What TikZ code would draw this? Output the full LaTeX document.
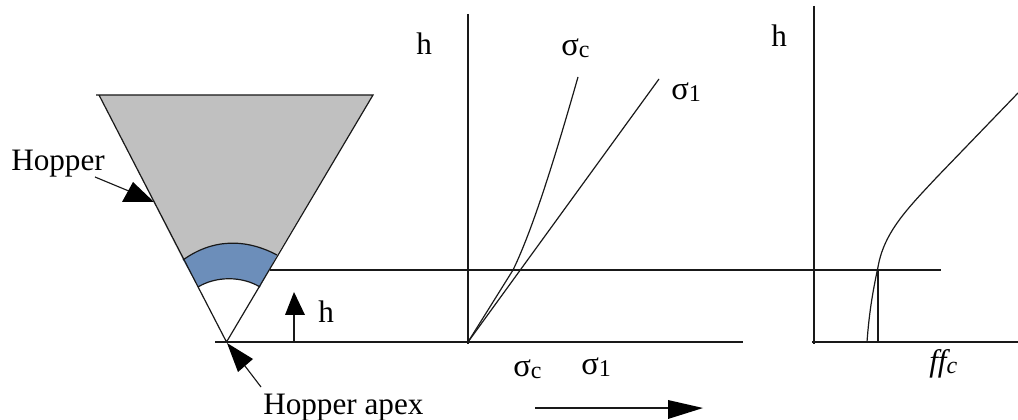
\documentclass[tikz,border=0pt]{standalone}
\usepackage{fontspec}
\setmainfont{Liberation Serif}
\definecolor{hopgray}{RGB}{192,192,192}
\definecolor{hopblue}{RGB}{108,142,186}
\definecolor{ink}{RGB}{25,25,25}
\tikzset{
  axis/.style={draw=ink,line width=1.1pt},
  thinline/.style={draw=ink,line width=0.9pt},
  pointer/.style={draw=ink,line width=0.85pt},
  head/.style={fill=black,draw=none},
  lbl/.style={inner sep=0pt,text=black,font=\fontsize{23.4}{25}\selectfont},
  sym/.style={inner sep=0pt,text=black,font=\fontsize{24.5}{26}\selectfont}
}
\newcommand{\smallsub}[1]{{\fontsize{18}{20}\selectfont\raisebox{-1.5pt}{#1}}}
\begin{document}
\begin{tikzpicture}[x=0.75pt,y=-0.75pt]
\useasboundingbox (0,0) rectangle (1018,420);
% hopper
\coordinate (apex) at (226.5,342);
\coordinate (tl) at (99,95);
\coordinate (tr) at (373,95);
\coordinate (tlx) at (96,95);
\coordinate (tlo) at (183,260);
\coordinate (tro) at (277,255);
\coordinate (bli) at (198,287);
\coordinate (bri) at (260,287);
\fill[hopgray] (tl) -- (tr) -- (tro) .. controls (245,238) and (212,239) .. (tlo) -- cycle;
\fill[hopblue] (tlo) .. controls (212,239) and (245,238) .. (tro) -- (bri) .. controls (242,276) and (216,276) .. (bli) -- cycle;
\draw[thinline] (tlx) -- (tr) -- (apex) -- (tl);
\draw[thinline] (tlo) .. controls (212,239) and (245,238) .. (tro);
\draw[thinline] (bli) .. controls (216,276) and (242,276) .. (bri);
% horizontals
\coordinate (h1a) at (270,270);
\coordinate (h1b) at (941,270);
\coordinate (b1a) at (215,342);
\coordinate (b1b) at (743,342);
\coordinate (b2a) at (812,342);
\coordinate (b2b) at (1018,342);
\draw[thinline] (h1a) -- (h1b);
\draw[thinline] (b1a) -- (b1b);
\draw[thinline] (b2a) -- (b2b);
% axes
\coordinate (ax1t) at (468,14);
\coordinate (ax1b) at (468,344);
\coordinate (ax2t) at (814,6);
\coordinate (ax2b) at (814,344);
\coordinate (v3t) at (878,270);
\coordinate (v3b) at (878,343);
\draw[axis] (ax1t) -- (ax1b);
\draw[axis] (ax2t) -- (ax2b);
\draw[axis] (v3t) -- (v3b);
% curves, middle
\coordinate (o) at (468,342);
\coordinate (s1) at (659,79);
\coordinate (sc) at (578,77);
\coordinate (sm) at (513,270);
\draw[thinline] (o) -- (s1);
\draw[thinline] (o) -- (sm) .. controls (535,225) and (560,140) .. (sc);
% curve, right
\coordinate (f0) at (867,342);
\coordinate (f1) at (878,267);
\coordinate (f2) at (937,177);
\coordinate (f3) at (1018,93);
\draw[thinline] (f0) .. controls (869,315) and (872,295) .. (f1) .. controls (884,232) and (908,208) .. (f2) -- (f3);
% pointers
\coordinate (ph0) at (95,177);
\coordinate (ph1) at (136,194);
\coordinate (pa0) at (261,387);
\coordinate (pa1) at (245,366);
\coordinate (pu0) at (294,342);
\coordinate (pu1) at (294,314);
\coordinate (pr0) at (535,408);
\coordinate (pr1) at (669,408);
\draw[pointer] (ph0) -- (ph1);
\draw[pointer] (pa0) -- (pa1);
\draw[pointer] (pu0) -- (pu1);
\draw[pointer] (pr0) -- (pr1);
\fill[head] (133,182) -- (154,202) -- (122,202) -- cycle;
\fill[head] (227,343) -- (253,359) -- (238,372) -- cycle;
\fill[head] (294,292) -- (305,315) -- (285,315) -- cycle;
\fill[head] (703,408) -- (668,419) -- (668,400) -- cycle;
% labels
\node[lbl,anchor=base west] (hopper) at (11,171) {Hopper};
\node[lbl,anchor=base west] (hapex) at (263,414) {Hopper apex};
\node[lbl,anchor=base west] (h0) at (318,323) {h};
\node[lbl,anchor=base west] (h1) at (416,55) {h};
\node[lbl,anchor=base west] (h2) at (771,47) {h};
\node[sym,anchor=base west] (lsc) at (561,56) {σ\smallsub{c}};
\node[sym,anchor=base west] (ls1) at (671,100) {σ\smallsub{1}};
\node[sym,anchor=base west] (lsc2) at (513,377) {σ\smallsub{c}};
\node[sym,anchor=base west] (ls12) at (581,375) {σ\smallsub{1}};
\node[lbl,anchor=base west] (lff) at (929,372) {\itshape ff\smallsub{c}};
\end{tikzpicture}
\end{document}
